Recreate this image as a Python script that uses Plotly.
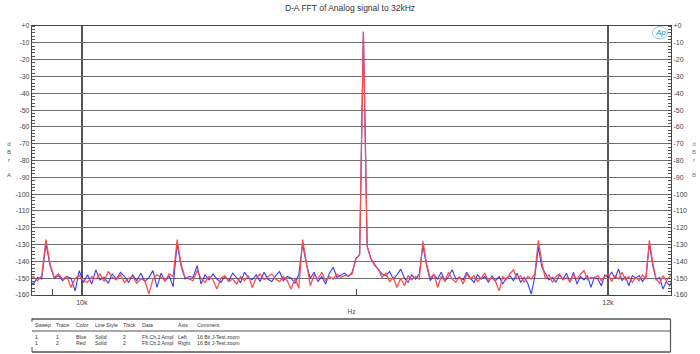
import numpy as np
import plotly.graph_objects as go

# ---------------- data ----------------
TITLE = "D-A FFT of Analog signal to 32kHz"
F_START = 9819.1          # first FFT bin shown (Hz)
BIN_HZ = 14.35546875      # FFT bin width (Hz) = 44100/3072

ch1_left_blue = [
    -151.5, -153.5, -149.5, -150.5, -129.5, -142.5, -150.0, -148.5, -151.5, -149.0,
    -150.0, -157.5, -145.5, -152.5, -148.0, -153.5, -145.0, -151.0, -149.5, -153.0,
    -147.5, -150.5, -146.5, -149.0, -152.5, -148.0, -151.5, -147.0, -152.0, -149.5,
    -145.5, -155.5, -147.0, -152.0, -148.5, -155.0, -129.5, -143.0, -150.5, -149.0,
    -149.5, -142.5, -153.5, -148.0, -151.0, -147.5, -150.5, -152.5, -149.0, -151.5,
    -147.0, -150.0, -152.5, -146.5, -149.5, -151.0, -148.0, -152.0, -146.5, -150.5,
    -152.0, -148.5, -146.0, -151.5, -149.0, -150.0, -153.0, -148.0, -129.5, -142.0,
    -150.0, -146.5, -152.0, -149.0, -153.5, -147.0, -143.5, -149.5, -148.0, -147.0,
    -149.0, -146.5, -138.5, -136.0, -3.5, -131.0, -138.5, -142.0, -145.0, -147.5,
    -148.5, -146.0, -150.5, -148.0, -144.5, -150.0, -152.5, -148.0, -150.5, -147.5,
    -130.5, -142.5, -151.5, -148.0, -150.5, -146.5, -152.0, -149.0, -145.0, -150.5,
    -149.5, -151.0, -146.5, -150.0, -152.5, -148.0, -150.5, -149.0, -152.5, -148.5,
    -151.5, -149.0, -153.5, -150.0, -148.5, -151.5, -147.0, -152.5, -149.5, -153.0,
    -159.5, -149.0, -131.5, -143.5, -147.5, -151.0, -149.5, -152.5, -148.0, -150.5,
    -147.0, -152.5, -146.5, -153.5, -149.0, -151.0, -148.5, -155.5, -149.5, -150.5,
    -154.5, -148.0, -149.5, -146.5, -150.0, -144.5, -151.5, -149.0, -154.5, -148.5,
    -150.0, -148.5, -152.0, -149.0, -129.5, -142.5, -151.0, -149.5, -156.5, -152.0,
    -154.5, -150.0,
]

ch2_right_red = [
    -150.5, -149.0, -151.5, -148.5, -127.0, -141.5, -149.5, -147.5, -150.5, -149.0,
    -155.5, -150.0, -148.5, -151.5, -152.5, -149.0, -150.5, -147.5, -152.0, -146.0,
    -149.5, -151.0, -148.0, -152.5, -150.0, -149.0, -153.0, -150.5, -151.5, -159.5,
    -150.5, -148.0, -149.5, -151.5, -147.5, -149.0, -127.0, -142.0, -149.5, -150.5,
    -151.5, -145.5, -150.0, -152.5, -149.0, -151.0, -156.5, -150.0, -148.5, -152.0,
    -150.5, -153.5, -149.0, -151.5, -148.5, -155.5, -150.0, -147.5, -151.0, -149.0,
    -147.5, -150.5, -152.0, -149.0, -151.5, -156.5, -150.0, -156.0, -127.0, -141.0,
    -154.5, -148.0, -150.5, -146.5, -151.5, -149.0, -150.5, -147.5, -149.5, -148.5,
    -148.5, -147.5, -138.5, -136.0, -3.5, -131.0, -138.5, -142.5, -144.5, -149.5,
    -147.0, -152.0, -149.5, -155.5, -150.0, -154.5, -148.5, -151.0, -149.0, -150.5,
    -128.0, -141.5, -150.0, -147.5, -155.5, -149.0, -151.5, -146.5, -150.5, -152.5,
    -149.0, -153.5, -147.5, -150.5, -148.5, -152.0, -150.0, -147.0, -151.5, -149.5,
    -152.0, -157.5, -149.0, -151.0, -147.5, -145.0, -150.5, -148.5, -152.5, -149.0,
    -150.5, -147.5, -127.5, -140.5, -150.5, -148.0, -152.5, -149.0, -147.5, -151.0,
    -149.5, -152.0, -148.0, -150.5, -147.5, -145.5, -151.0, -149.5, -150.0, -148.5,
    -151.5, -149.0, -147.5, -152.0, -148.5, -150.5, -146.5, -151.0, -149.0, -152.5,
    -149.5, -151.5, -148.0, -150.5, -127.5, -141.0, -150.5, -153.0, -148.5, -151.5,
    -149.0, -147.5,
]

y_tick_vals = [0, -10, -20, -30, -40, -50, -60, -70, -80, -90, -100, -110, -120, -130, -140, -150, -160]
y_tick_text = ["+0", "-10", "-20", "-30", "-40", "-50", "-60", "-70", "-80", "-90", "-100",
               "-110", "-120", "-130", "-140", "-150", "-160"]
x_tick_vals = [10000, 12000]
x_tick_text = ["10k", "12k"]
x_minor_vals = [9900, 11000]
X_RANGE_HZ = [9829, 12265]

table_header = ["Sweep", "Trace", "Color", "Line Style", "Thick", "Data", "Axis", "Comment"]
table_rows = [
    ["1", "1", "Blue", "Solid", "2", "Fft.Ch.1 Ampl", "Left", "16 Bit J-Test.zoom"],
    ["1", "2", "Red", "Solid", "2", "Fft.Ch.2 Ampl", "Right", "16 Bit J-Test.zoom"],
]

# ---------------- figure ----------------
freq = F_START + BIN_HZ * np.arange(len(ch1_left_blue))

FONT = "Arial, Liberation Sans, sans-serif"
W, H = 700, 354
L, R, T, B = 32, 29, 26, 59
PW, PH = W - L - R, H - T - B


def px(xp):
    return (xp - L) / PW


def py(yp):
    return (H - B - yp) / PH


fig = go.Figure()
fig.add_trace(go.Scatter(x=freq, y=ch1_left_blue, mode="lines", name="Ch1",
                         line=dict(color="rgba(35,35,250,0.9)", width=1.1), yaxis="y"))
fig.add_trace(go.Scatter(x=freq, y=ch2_right_red, mode="lines", name="Ch2",
                         line=dict(color="#ff4a4a", width=1.25), yaxis="y2"))

axis_font = dict(family=FONT, size=7, color="#444")
yax = dict(range=[-160, 0], tickmode="array", tickvals=y_tick_vals, ticktext=y_tick_text,
           tickfont=axis_font, showgrid=True, gridcolor="#6e6e6e", gridwidth=1.1,
           zeroline=False, showline=True, linecolor="#444", linewidth=1.2,
           ticks="", fixedrange=True,
           minor=dict(dtick=2, ticks="inside", ticklen=3, tickcolor="#555", tickwidth=1, showgrid=False))

fig.update_layout(
    width=W, height=H,
    margin=dict(l=L, r=R, t=T, b=B),
    paper_bgcolor="white", plot_bgcolor="white",
    showlegend=False,
    title=dict(text=TITLE, x=0.5, xanchor="center", y=1 - 8 / H, yanchor="middle",
               font=dict(family=FONT, size=8.5, color="#333")),
    xaxis=dict(type="log", range=[np.log10(X_RANGE_HZ[0]), np.log10(X_RANGE_HZ[1])],
               tickmode="array", tickvals=x_tick_vals, ticktext=x_tick_text,
               tickfont=axis_font, showgrid=True, gridcolor="#555", gridwidth=1.5,
               zeroline=False, showline=True, linecolor="#444", linewidth=1.2, mirror=True,
               ticks="",
               minor=dict(tickmode="array", tickvals=x_minor_vals, ticks="inside", ticklen=6,
                          tickcolor="#555", tickwidth=1, showgrid=False),
               title=dict(text="Hz", font=dict(family=FONT, size=6.5, color="#444"), standoff=4)),
    yaxis=yax,
    yaxis2=dict(yax, overlaying="y", side="right", showgrid=False),
)

# stacked axis titles
fig.add_annotation(x=px(5), y=py(159), xref="paper", yref="paper", showarrow=False,
                   text="d<br>B<br>r<br> <br>A", font=dict(family=FONT, size=6, color="#555"),
                   align="center", yanchor="middle")
fig.add_annotation(x=px(697.5), y=py(159), xref="paper", yref="paper", showarrow=False,
                   text="d<br>B<br>r<br> <br>B", font=dict(family=FONT, size=6, color="#5a7fa8"),
                   align="center", yanchor="middle")

# Ap logo
fig.add_shape(type="circle", xref="paper", yref="paper",
              x0=px(652.5), x1=px(667.5), y0=py(39), y1=py(26.5),
              line=dict(color="rgba(58,146,216,0.7)", width=0.8))
fig.add_annotation(x=px(660), y=py(32.8), xref="paper", yref="paper", showarrow=False,
                   xanchor="center", yanchor="middle",
                   text="<i>Ap</i>", font=dict(family=FONT, size=8, color="#2a86d0"))

# legend table
line_c = "#555"
fig.add_shape(type="line", xref="paper", yref="paper", x0=px(32), x1=px(670.5), y0=py(319), y1=py(319),
              line=dict(color=line_c, width=1.5))
fig.add_shape(type="line", xref="paper", yref="paper", x0=px(32), x1=px(670.5), y0=py(331), y1=py(331),
              line=dict(color=line_c, width=1))
fig.add_shape(type="line", xref="paper", yref="paper", x0=px(32), x1=px(670.5), y0=py(352), y1=py(352),
              line=dict(color=line_c, width=1.5))
fig.add_shape(type="line", xref="paper", yref="paper", x0=px(670.5), x1=px(670.5), y0=py(319), y1=py(352),
              line=dict(color=line_c, width=1.2))
fig.add_shape(type="line", xref="paper", yref="paper", x0=px(32), x1=px(32), y0=py(318), y1=py(322),
              line=dict(color=line_c, width=1))
fig.add_shape(type="line", xref="paper", yref="paper", x0=px(32), x1=px(32), y0=py(347), y1=py(352),
              line=dict(color=line_c, width=1))

col_x = [32.5, 54, 74, 92.5, 121, 139.5, 176, 195]
row_y = [336.7, 343.3]
tfont = dict(family=FONT, size=5.2, color="#333")
for cx, txt in zip(col_x, table_header):
    fig.add_annotation(x=px(cx), y=py(324.5), xref="paper", yref="paper", showarrow=False,
                       text=txt, xanchor="left", yanchor="middle", font=tfont)
for ry, row in zip(row_y, table_rows):
    for cx, txt in zip(col_x, row):
        fig.add_annotation(x=px(cx), y=py(ry), xref="paper", yref="paper", showarrow=False,
                           text=txt, xanchor="left", yanchor="middle", font=tfont)

fig.write_html("out.html")
